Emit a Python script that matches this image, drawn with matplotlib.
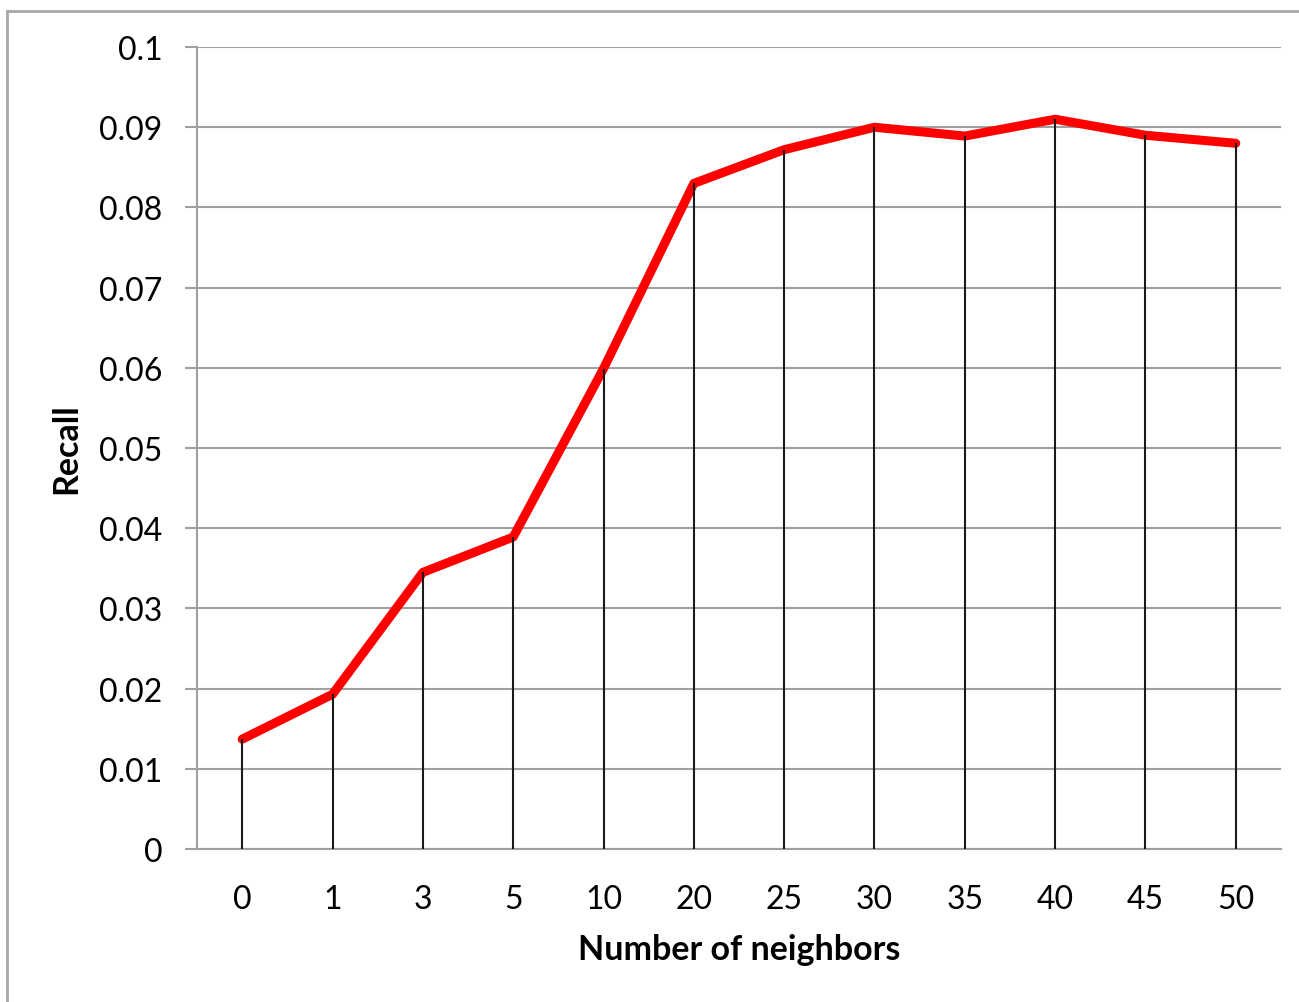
import matplotlib.pyplot as plt
from matplotlib.lines import Line2D
import numpy as np

plt.rcParams['font.family'] = ['Lato', 'DejaVu Sans']

neighbors = ["0", "1", "3", "5", "10", "20", "25", "30", "35", "40", "45", "50"]
recall = [0.0137, 0.0193, 0.0345, 0.0389, 0.0599, 0.0830,
          0.0872, 0.0900, 0.0889, 0.0910, 0.0890, 0.0880]
yticks = [0, 0.01, 0.02, 0.03, 0.04, 0.05, 0.06, 0.07, 0.08, 0.09, 0.1]
ytick_labels = ["0", "0.01", "0.02", "0.03", "0.04", "0.05",
                "0.06", "0.07", "0.08", "0.09", "0.1"]

fig = plt.figure(figsize=(12.99, 10.03), dpi=100)
ax = fig.add_axes([0.1517, 0.1525, 0.8344, 0.7996])

x = np.arange(len(neighbors))
ax.plot(x, recall, color='#ff0000', linewidth=6.5, solid_capstyle='round',
        solid_joinstyle='round', zorder=3)
# drop lines from each point down to the axis
ax.vlines(x, 0, recall, color='#1a1a1a', linewidth=1.5, zorder=4)

ax.set_xlim(-0.5, len(neighbors) - 0.5)
ax.set_ylim(0, 0.1)
ax.set_xticks(x)
ax.set_xticklabels(neighbors)
ax.set_yticks(yticks)
ax.set_yticklabels(ytick_labels)

ax.grid(axis='y', color='#a0a0a0', linewidth=1.5, zorder=0)
for side in ['top', 'right']:
    ax.spines[side].set_visible(False)
ax.spines['left'].set_color('#a0a0a0')
ax.spines['left'].set_linewidth(1.5)
ax.spines['bottom'].set_color('#a0a0a0')
ax.spines['bottom'].set_linewidth(1.5)

ax.tick_params(axis='y', length=9, width=1.5, color='#a0a0a0',
               labelsize=23, pad=16)
ax.tick_params(axis='x', length=0, labelsize=23, pad=25)

ax.set_xlabel("Number of neighbors", fontsize=24.5, fontweight='bold', labelpad=14)
ax.set_ylabel("Recall", fontsize=24.5, fontweight='bold', labelpad=12)

# outer frame of the chart area
fig.add_artist(Line2D([7 / 1299, 7 / 1299], [1 - 12 / 1003, 0], color='#a8a8a8',
                      linewidth=2, transform=fig.transFigure))
fig.add_artist(Line2D([7 / 1299, 1], [1 - 12 / 1003, 1 - 12 / 1003], color='#a8a8a8',
                      linewidth=2, transform=fig.transFigure))

fig.savefig("out.png", dpi=100)
